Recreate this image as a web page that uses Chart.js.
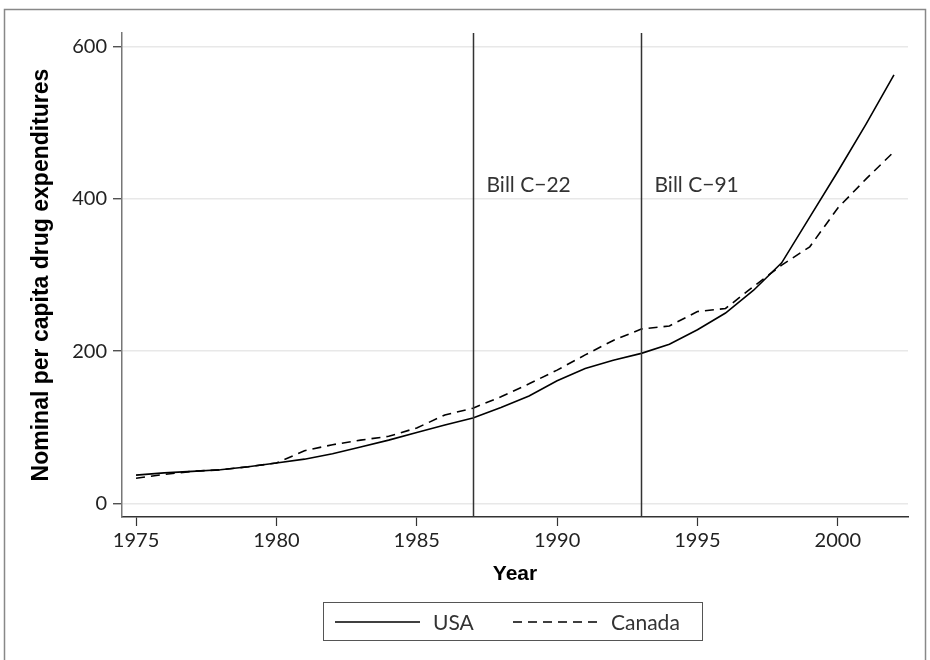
<!DOCTYPE html>
<html lang="en">
<head>
    <meta charset="UTF-8">
    <title>Nominal per capita drug expenditures</title>
    <script src="https://cdn.jsdelivr.net/npm/chart.js"></script>
    <style>
        html, body { margin: 0; padding: 0; background: #fff; }
        #wrap { width: 930px; height: 660px; }
    </style>
</head>
<body>
    <div id="wrap">
        <canvas id="drugChart" width="930" height="660"></canvas>
    </div>

    <script>
        // data
        const years = [1975, 1976, 1977, 1978, 1979, 1980, 1981, 1982, 1983, 1984,
                       1985, 1986, 1987, 1988, 1989, 1990, 1991, 1992, 1993, 1994,
                       1995, 1996, 1997, 1998, 1999, 2000, 2001, 2002];
        const usa = [37, 40, 42, 44, 48, 53, 58, 65, 74, 83,
                     93, 103, 112, 126, 141, 161, 177, 188, 197, 209,
                     228, 250, 280, 316, 376, 436, 498, 563];
        const canada = [33, 38, 42, 44, 48, 53, 69, 77, 83, 88,
                        99, 116, 125, 140, 157, 175, 195, 214, 229, 233,
                        252, 256, 285, 313, 337, 388, 426, 462];
        const xTicks = [1975, 1980, 1985, 1990, 1995, 2000];
        const yTicks = [0, 200, 400, 600];
        const billYears = [1987, 1993];
        const billLabels = ['Bill C\u221222', 'Bill C\u221291'];

        const tickFont = { family: 'Lato, "Open Sans", sans-serif', size: 20 };
        const labelFont = '21px Lato, "Open Sans", sans-serif';

        // background + outer frame
        const framePlugin = {
            id: 'frame',
            beforeDraw(chart) {
                const ctx = chart.ctx;
                ctx.save();
                ctx.fillStyle = '#fff';
                ctx.fillRect(0, 0, chart.width, chart.height);
                ctx.strokeStyle = '#888';
                ctx.lineWidth = 1.5;
                ctx.strokeRect(4.5, 9.5, 921, 700);
                ctx.restore();
            }
        };

        // vertical lines for the two bills
        const billPlugin = {
            id: 'bills',
            afterDatasetsDraw(chart) {
                const ctx = chart.ctx;
                const xs = chart.scales.x;
                const ys = chart.scales.y;
                const area = chart.chartArea;
                ctx.save();
                ctx.strokeStyle = '#333';
                ctx.lineWidth = 1.5;
                ctx.font = labelFont;
                ctx.fillStyle = '#333';
                ctx.textBaseline = 'middle';
                billYears.forEach((yr, i) => {
                    const px = Math.round(xs.getPixelForValue(yr)) + 0.5;
                    ctx.beginPath();
                    ctx.moveTo(px, area.top);
                    ctx.lineTo(px, area.bottom);
                    ctx.stroke();
                    ctx.fillText(billLabels[i], px + 13, ys.getPixelForValue(418));
                });
                ctx.restore();
            }
        };

        // boxed legend under the axis title
        const legendPlugin = {
            id: 'boxLegend',
            afterDraw(chart) {
                const ctx = chart.ctx;
                ctx.save();
                ctx.strokeStyle = '#555';
                ctx.lineWidth = 1;
                ctx.strokeRect(323.5, 602.5, 379, 38);
                ctx.strokeStyle = '#000';
                ctx.lineWidth = 1.5;
                ctx.beginPath();
                ctx.moveTo(335, 622);
                ctx.lineTo(420, 622);
                ctx.stroke();
                ctx.setLineDash([9, 6]);
                ctx.beginPath();
                ctx.moveTo(513, 622);
                ctx.lineTo(598, 622);
                ctx.stroke();
                ctx.setLineDash([]);
                ctx.font = labelFont;
                ctx.fillStyle = '#333';
                ctx.textBaseline = 'middle';
                ctx.fillText('USA', 433, 623);
                ctx.fillText('Canada', 611, 623);
                ctx.restore();
            }
        };

        const chart = new Chart(document.getElementById('drugChart').getContext('2d'), {
            type: 'line',
            data: {
                datasets: [
                    {
                        label: 'USA',
                        data: years.map((y, i) => ({ x: y, y: usa[i] })),
                        borderColor: '#000',
                        borderWidth: 1.6,
                        pointRadius: 0,
                        tension: 0
                    },
                    {
                        label: 'Canada',
                        data: years.map((y, i) => ({ x: y, y: canada[i] })),
                        borderColor: '#000',
                        borderWidth: 1.6,
                        borderDash: [9, 6],
                        pointRadius: 0,
                        tension: 0
                    }
                ]
            },
            options: {
                responsive: false,
                animation: false,
                layout: { padding: { top: 33, right: 22, bottom: 73, left: 0 } },
                plugins: {
                    legend: { display: false },
                    tooltip: { enabled: false }
                },
                scales: {
                    x: {
                        type: 'linear',
                        min: 1974.5,
                        max: 2002.5,
                        afterBuildTicks: axis => { axis.ticks = xTicks.map(v => ({ value: v })); },
                        afterFit: axis => { axis.height = 70; },
                        ticks: {
                            callback: v => String(v),
                            font: tickFont,
                            color: '#222',
                            padding: 3,
                            maxRotation: 0
                        },
                        grid: {
                            drawOnChartArea: false,
                            tickLength: 9,
                            tickColor: '#333',
                            tickWidth: 1.2
                        },
                        border: { color: '#333', width: 1.5 },
                        title: {
                            display: true,
                            text: 'Year',
                            font: { family: '"Liberation Sans", Arial, sans-serif', size: 21, weight: 'bold' },
                            color: '#000',
                            padding: { top: 1, bottom: 0 }
                        }
                    },
                    y: {
                        type: 'linear',
                        min: -18,
                        max: 618,
                        afterBuildTicks: axis => { axis.ticks = yTicks.map(v => ({ value: v })); },
                        afterFit: axis => { axis.width = 122; },
                        ticks: {
                            font: tickFont,
                            color: '#222',
                            padding: 6
                        },
                        grid: {
                            color: '#e8e8e8',
                            lineWidth: 1.5,
                            tickLength: 9,
                            tickColor: '#333',
                            tickWidth: 1.2
                        },
                        border: { color: '#777', width: 1.5 },
                        title: {
                            display: true,
                            text: 'Nominal per capita drug expenditures',
                            font: { family: '"Liberation Sans", Arial, sans-serif', size: 23, weight: 'bold' },
                            color: '#000',
                            padding: { top: 28, bottom: 0 }
                        }
                    }
                }
            },
            plugins: [framePlugin, billPlugin, legendPlugin]
        });
    </script>
</body>
</html>
